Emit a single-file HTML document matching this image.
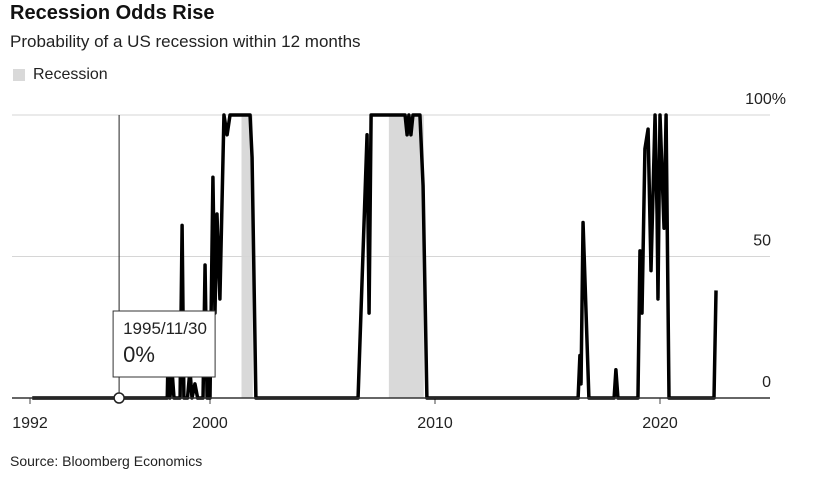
<!DOCTYPE html>
<html><head><meta charset="utf-8"><style>
body{margin:0;width:817px;height:484px;background:#fff;font-family:"Liberation Sans",Arial,sans-serif;overflow:hidden;position:relative}
.t{position:absolute;white-space:nowrap}
</style></head><body>
<div class="t" style="left:10px;top:2px;font-size:20px;font-weight:bold;color:#111">Recession Odds Rise</div>
<div class="t" style="left:10px;top:32px;font-size:17px;color:#222">Probability of a US recession within 12 months</div>
<div style="position:absolute;left:13px;top:69px;width:12px;height:12px;background:#d9d9d9"></div>
<div class="t" style="left:33px;top:66px;font-size:16px;color:#222">Recession</div>
<div class="t" style="left:10px;top:453px;font-size:14px;color:#222">Source: Bloomberg Economics</div>
<svg id="c" width="817" height="484" style="position:absolute;left:0;top:0"></svg>
<script>
const recessions=[[2001.4,2001.9],[2007.95,2009.5]];
const years=[1992.1,1998.1,1998.13,1998.22,1998.31,1998.4,1998.67,1998.76,1998.84,1999.0,1999.11,1999.2,1999.33,1999.45,1999.69,1999.78,1999.87,2000.0,2000.13,2000.22,2000.31,2000.44,2000.62,2000.76,2000.89,2001.78,2001.87,2002.04,2006.58,2006.98,2007.07,2007.16,2008.67,2008.76,2008.84,2008.93,2009.02,2009.33,2009.47,2009.64,2016.36,2016.44,2016.49,2016.58,2016.84,2017.96,2018.04,2018.13,2019.02,2019.11,2019.2,2019.33,2019.47,2019.6,2019.78,2019.87,2019.91,2020.0,2020.18,2020.27,2020.4,2022.4,2022.49];
const values=[0,0,12,0,10,0,0,61,0,0,10,0,5,0,0,47,0,0,78,30,65,35,100,93,100,100,85,0,0,93,30,100,100,93,100,93,100,100,75,0,0,15,5,62,0,0,10,0,0,52,30,88,95,45,100,65,35,100,60,100,0,0,38];
const yTicks=[0,50,100];
const yTickLabels=["0","50","100%"];
const xTicks=[1992,2000,2010,2020];
const hoverYear=1995.96, hoverValue=0;
const NS="http://www.w3.org/2000/svg",svg=document.getElementById('c');
const X=y=>210+(y-2000)*22.5, Y=v=>398-v*2.83;
function mk(t,a){const e=document.createElementNS(NS,t);for(const k in a)e.setAttribute(k,a[k]);svg.appendChild(e);return e;}
recessions.forEach(r=>{const e=mk('rect',{x:X(r[0]),y:Y(100),width:X(r[1])-X(r[0]),height:Y(0)-Y(100),fill:'#d9d9d9'});

});
yTicks.forEach((v,i)=>{if(v>0){const g=mk('line',{x1:12,x2:770,y1:Y(v),y2:Y(v),stroke:'#d6d6d6','stroke-width':1});

}
const t=mk('text',{x:v==100?786:771,y:Y(v)-11,'text-anchor':'end','font-size':16,fill:'#222','font-family':'Liberation Sans'});t.textContent=yTickLabels[i];

});
xTicks.forEach(y=>{const t=mk('text',{x:X(y),y:428,'text-anchor':'middle','font-size':16,fill:'#222','font-family':'Liberation Sans'});t.textContent=y;


const k=mk('line',{x1:X(y),x2:X(y),y1:398,y2:404,stroke:'#444'});

});
const hx=X(hoverYear);
const ch=mk('line',{x1:hx,x2:hx,y1:Y(100),y2:Y(0),stroke:'#222','stroke-width':1});


const p=mk('polyline',{points:years.map((y,i)=>X(y)+','+Y(values[i])).join(' '),fill:'none',stroke:'#000','stroke-width':3.5,'stroke-linejoin':'round'});


const ax=mk('line',{x1:12,x2:770,y1:398,y2:398,stroke:'#333','stroke-width':1.5});


const bx=mk('rect',{x:hx-6,y:311,width:102,height:66,fill:'#fff',stroke:'#333','stroke-width':1});


const t1=mk('text',{x:hx+4,y:334,'font-size':17,fill:'#222','font-family':'Liberation Sans'});t1.textContent='1995/11/30';


const t2=mk('text',{x:hx+4,y:362,'font-size':22,fill:'#222','font-family':'Liberation Sans'});t2.textContent=hoverValue+'%';


const c=mk('circle',{cx:hx,cy:Y(hoverValue),r:5,fill:'#fff',stroke:'#222','stroke-width':1.5});


</script>
</body></html>
